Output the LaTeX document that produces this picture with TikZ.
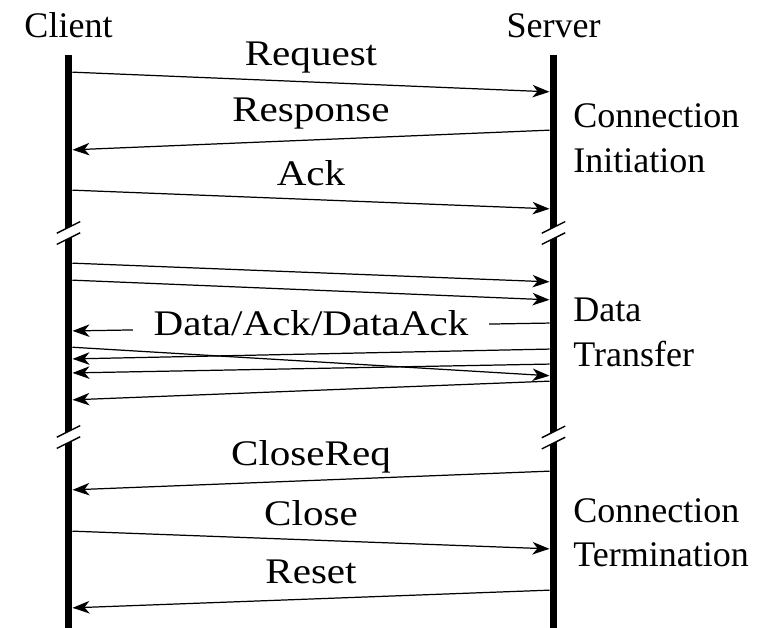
\documentclass[tikz,border=0pt]{standalone}
\usepackage{fontspec}
\setmainfont{Liberation Serif}
\newfontfamily\msgfont[FakeStretch=1.14]{Liberation Serif}
\usetikzlibrary{arrows.meta}

\begin{document}
\begin{tikzpicture}[x=0.02cm, y=-0.02cm, font=\fontsize{20.5}{24}\selectfont,
	life/.style = {line width=4.5pt},
	msg/.style = {line width=0.7pt, -{Stealth[length=0.34cm, width=0.25cm, inset=0.1cm]}, shorten >=0.08cm, shorten <=0.08cm},
	lbl/.style = {anchor=base, inner sep=0pt, font=\fontsize{20.5}{24}\msgfont},
	side/.style = {anchor=base west, inner sep=0pt},
	gaplbl/.style = {fill=white, inner xsep=0.42cm, inner ysep=0.05cm, yshift=0.08cm, font=\fontsize{20.5}{24}\msgfont},
	cut/.style = {line width=0.8pt}]

		\useasboundingbox (0,0) rectangle (764,628);

		\node[anchor=base, inner sep=0pt] (client) at (68.5,38) {Client};
		\node[anchor=base, inner sep=0pt] (server) at (553.5,38) {Server};

		\coordinate (ctop) at (68.5,55);
		\coordinate (cbot) at (68.5,628);
		\coordinate (stop) at (553.5,55);
		\coordinate (sbot) at (553.5,628);
		\draw[life] (ctop) -- (cbot);
		\draw[life] (stop) -- (sbot);

		% breaks
		\fill[white] (68.5,233) ++(-5,-3.1) -- ++(10,-5) -- ++(0,11.2) -- ++(-10,5) -- cycle;
		\draw[cut] (68.5,233) ++(-11.7,0.2) -- ++(23.4,-11.6);
		\draw[cut] (68.5,233) ++(-11.7,11.4) -- ++(23.4,-11.6);
		\fill[white] (553.5,233) ++(-5,-3.1) -- ++(10,-5) -- ++(0,11.2) -- ++(-10,5) -- cycle;
		\draw[cut] (553.5,233) ++(-11.7,0.2) -- ++(23.4,-11.6);
		\draw[cut] (553.5,233) ++(-11.7,11.4) -- ++(23.4,-11.6);
		\fill[white] (68.5,437) ++(-5,-3.1) -- ++(10,-5) -- ++(0,11.2) -- ++(-10,5) -- cycle;
		\draw[cut] (68.5,437) ++(-11.7,0.2) -- ++(23.4,-11.6);
		\draw[cut] (68.5,437) ++(-11.7,11.4) -- ++(23.4,-11.6);
		\fill[white] (553.5,437.5) ++(-5,-3.1) -- ++(10,-5) -- ++(0,11.2) -- ++(-10,5) -- cycle;
		\draw[cut] (553.5,437.5) ++(-11.7,0.2) -- ++(23.4,-11.6);
		\draw[cut] (553.5,437.5) ++(-11.7,11.4) -- ++(23.4,-11.6);

		% connection initiation
		\coordinate (c-req) at (68.5,72);
		\coordinate (s-req) at (553.5,92);
		\coordinate (s-resp) at (553.5,130);
		\coordinate (c-resp) at (68.5,150);
		\coordinate (c-ack) at (68.5,190);
		\coordinate (s-ack) at (553.5,209);
		\node[lbl] (request) at (311,66) {Request};
		\node[lbl] (response) at (311,122) {Response};
		\node[lbl] (ack) at (311,186) {Ack};
		\draw[msg] (c-req) -- (s-req);
		\draw[msg] (s-resp) -- (c-resp);
		\draw[msg] (c-ack) -- (s-ack);

		% data transfer
		\coordinate (c-d1) at (68.5,263);
		\coordinate (s-d1) at (553.5,282);
		\coordinate (c-d2) at (68.5,280);
		\coordinate (s-d2) at (553.5,300);
		\coordinate (s-d3) at (553.5,323);
		\coordinate (c-d3) at (68.5,331);
		\coordinate (c-d4) at (68.5,347);
		\coordinate (s-d4) at (553.5,376);
		\coordinate (s-d5) at (553.5,349);
		\coordinate (c-d5) at (68.5,359);
		\coordinate (s-d6) at (553.5,364);
		\coordinate (c-d6) at (68.5,373);
		\coordinate (s-d7) at (553.5,381);
		\coordinate (c-d7) at (68.5,400);
		\draw[msg] (c-d1) -- (s-d1);
		\draw[msg] (c-d2) -- (s-d2);
		\draw[msg] (s-d3) -- node[gaplbl] (dataack) {Data/Ack/DataAck} (c-d3);
		\draw[msg] (c-d4) -- (s-d4);
		\draw[msg] (s-d5) -- (c-d5);
		\draw[msg] (s-d6) -- (c-d6);
		\draw[msg] (s-d7) -- (c-d7);

		% connection termination
		\coordinate (s-creq) at (553.5,471);
		\coordinate (c-creq) at (68.5,490);
		\coordinate (c-close) at (68.5,531);
		\coordinate (s-close) at (553.5,549);
		\coordinate (s-reset) at (553.5,590);
		\coordinate (c-reset) at (68.5,608);
		\node[lbl] (closereq) at (311,465) {CloseReq};
		\node[lbl] (close) at (311,525) {Close};
		\node[lbl] (reset) at (311,583) {Reset};
		\draw[msg] (s-creq) -- (c-creq);
		\draw[msg] (c-close) -- (s-close);
		\draw[msg] (s-reset) -- (c-reset);

		\node[side] (conn1) at (573,128) {Connection};
		\node[side] (init) at (573,173) {Initiation};
		\node[side] (data) at (573,321) {Data};
		\node[side] (transfer) at (573,366) {Transfer};
		\node[side] (conn2) at (573,522) {Connection};
		\node[side] (term) at (573,566) {Termination};
	\end{tikzpicture}
\end{document}
